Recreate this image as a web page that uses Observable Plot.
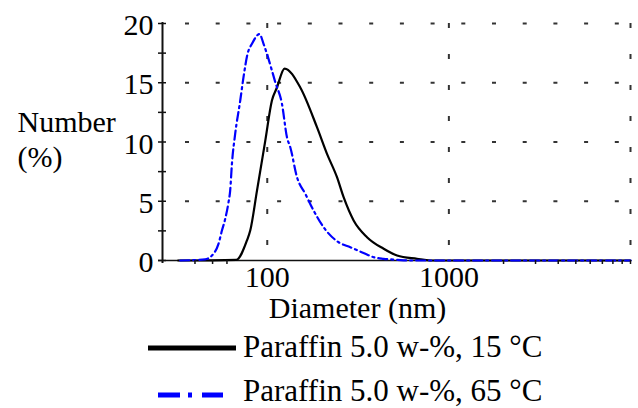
<!DOCTYPE html>
<html>
<head>
<meta charset="utf-8">
<script src="https://cdn.jsdelivr.net/npm/d3@7"></script>
<script src="https://cdn.jsdelivr.net/npm/@observablehq/plot@0.6"></script>
<style>
  html, body { margin: 0; padding: 0; background: #fff; }
  #wrap { width: 638px; height: 408px; position: relative; overflow: hidden; background: #fff;
          font-family: "Times New Roman", "Liberation Serif", "Noto Serif", "FreeSerif", "DejaVu Serif", serif; }
  #wrap svg { display: block; }
  #wrap svg text { font-family: "Times New Roman", "Liberation Serif", "Noto Serif", "FreeSerif", "DejaVu Serif", serif; }
</style>
</head>
<body>
<div id="wrap"></div>
<script>
// ---- data ----
const seriesNames = ["Paraffin 5.0 w-%, 15 °C", "Paraffin 5.0 w-%, 65 °C"];

const diameter15 = [32.3, 67.5, 77.3, 80.6, 87.8, 97.5, 106.1, 113.1, 124.5, 152, 187.8, 213.3, 242.1, 263.3, 298.9, 354.2, 437.3, 518.3, 668.1, 791, 10000];
const number15   = [0,    0.06, 1.69, 2.53, 5.9,  10.1, 13.5,  14.6,  16.2,  14.6, 11.25, 9.0,   7.03,  5.34,  3.38,  1.97,  0.99,  0.42,  0.14,  0,   0];

const diameter65 = [33.2, 45.5, 50.6, 53.9, 56.3, 58.7, 61.2, 62.5, 63.9, 66.6, 71.0, 74.0, 77.9, 82.4, 90.6, 95.4, 99.6, 106.1, 110.7, 120.5, 128.4, 133.9, 145.8, 162, 179.9, 204.2, 247.1, 286.7, 346.7, 385.2, 437.3, 518.3, 600, 10000];
const number65   = [0,    0.1,  0.57, 1.41, 2.53, 3.52, 4.92, 5.9,  8.16, 10.7, 13.5, 15.47, 17.44, 18.29, 19.11, 18.29, 17.44, 16.03, 15.05, 13.22, 10.4, 9.56, 7.03, 5.63, 4.22, 2.81, 1.54, 1.12, 0.57, 0.28, 0.14, 0.06, 0, 0];

const xDomain = [26.5, 10000];
const yDomain = [0, 20];
const yTickLabels = [0, 5, 10, 15, 20];
const yAllTicks = [0, 2.5, 5, 7.5, 10, 12.5, 15, 17.5, 20];
const yGrid = [5, 10, 15, 20];
const xTickLabels = [100, 1000];
const xGrid = [100, 1000, 10000];
const xMinorTicks = [40, 50, 60, 2000, 3000, 4000, 5000, 6000, 7000, 8000, 9000, 10000];
const xLabel = "Diameter (nm)";
const yLabel = "Number\n(%)";

const data15 = diameter15.map((d, i) => ({d, n: number15[i]}));
const data65 = diameter65.map((d, i) => ({d, n: number65[i]}));

const FONT = "Times New Roman, Liberation Serif, Noto Serif, FreeSerif, DejaVu Serif, serif";

const chart = Plot.plot({
  width: 638,
  height: 330,
  marginLeft: 162,
  marginRight: 8,
  marginTop: 23,
  marginBottom: 70,
  x: {type: "log", domain: xDomain, label: null},
  y: {domain: yDomain, label: null},
  style: {fontFamily: FONT, fontSize: "30px", color: "#000", background: "white", overflow: "visible"},
  marks: [
    // dotted grid
    Plot.ruleY(yGrid, {x1: xDomain[0], x2: xDomain[1], stroke: "#333", strokeWidth: 2, strokeDasharray: "4,26.7", strokeDashoffset: 7.7}),
    Plot.ruleX(xGrid, {y1: yDomain[1], y2: yDomain[0], stroke: "#333", strokeWidth: 2, strokeDasharray: "5,26"}),
    // x axis line
    Plot.ruleY([0], {x1: xDomain[0], x2: xDomain[1], stroke: "#111", strokeWidth: 1.6, insetLeft: -4}),
    // curves
    Plot.line(data15, {x: "d", y: "n", stroke: "#000", strokeWidth: 2.2, curve: "monotone-x"}),
    Plot.line(data65, {x: "d", y: "n", stroke: "#0000ff", strokeWidth: 2.2, strokeDasharray: "9,4,2,4", curve: "monotone-x"}),
    // y axis line
    Plot.ruleX([xDomain[0]], {y1: yDomain[1], y2: yDomain[0], stroke: "#111", strokeWidth: 2, insetTop: -1, insetBottom: -3}),
    // y ticks crossing axis
    Plot.axisY(yAllTicks, {tickSize: 8, dx: 4, tickFormat: () => "", label: null, stroke: "#111", strokeWidth: 1.5}),
    Plot.axisY(yTickLabels, {tickSize: 0, tickPadding: 9, dy: 2, tickFormat: d => String(d), label: null, fill: "#000"}),
    // x ticks
    Plot.axisX(xMinorTicks, {tickSize: 4, tickFormat: () => "", label: null, stroke: "#111", strokeWidth: 1.5}),
    Plot.axisX(xTickLabels, {tickSize: 0, tickPadding: 5, tickFormat: d => String(d), label: null, fill: "#000"}),
    // axis titles
    Plot.text([xLabel], {frameAnchor: "bottom-left", dx: 195, dy: 47.4, textAnchor: "middle", lineAnchor: "middle", fill: "#000", fontSize: 30}),
    Plot.text([yLabel], {frameAnchor: "left", dx: -145, dy: -3.6, textAnchor: "start", lineAnchor: "middle", lineHeight: 1.1667, fill: "#000", fontSize: 30})
  ]
});

const wrap = document.getElementById("wrap");
wrap.appendChild(chart);

// legend below the plot
const legend = d3.create("svg")
  .attr("width", 638)
  .attr("height", 78)
  .attr("font-family", FONT)
  .attr("font-size", 31);

const legendStyles = [
  {stroke: "#000", dash: null, x1: 148, x2: 236, y: 18, ty: 27},
  {stroke: "#0000ff", dash: "22,8,4,10", x1: 158, x2: 223, y: 65, ty: 71}
];

seriesNames.forEach((name, i) => {
  const s = legendStyles[i];
  legend.append("line")
    .attr("x1", s.x1).attr("x2", s.x2)
    .attr("y1", s.y).attr("y2", s.y)
    .attr("stroke", s.stroke)
    .attr("stroke-width", 5)
    .attr("stroke-dasharray", s.dash);
  legend.append("text")
    .attr("x", 243).attr("y", s.ty)
    .attr("fill", "#000")
    .text(name);
});

wrap.appendChild(legend.node());
</script>
</body>
</html>
